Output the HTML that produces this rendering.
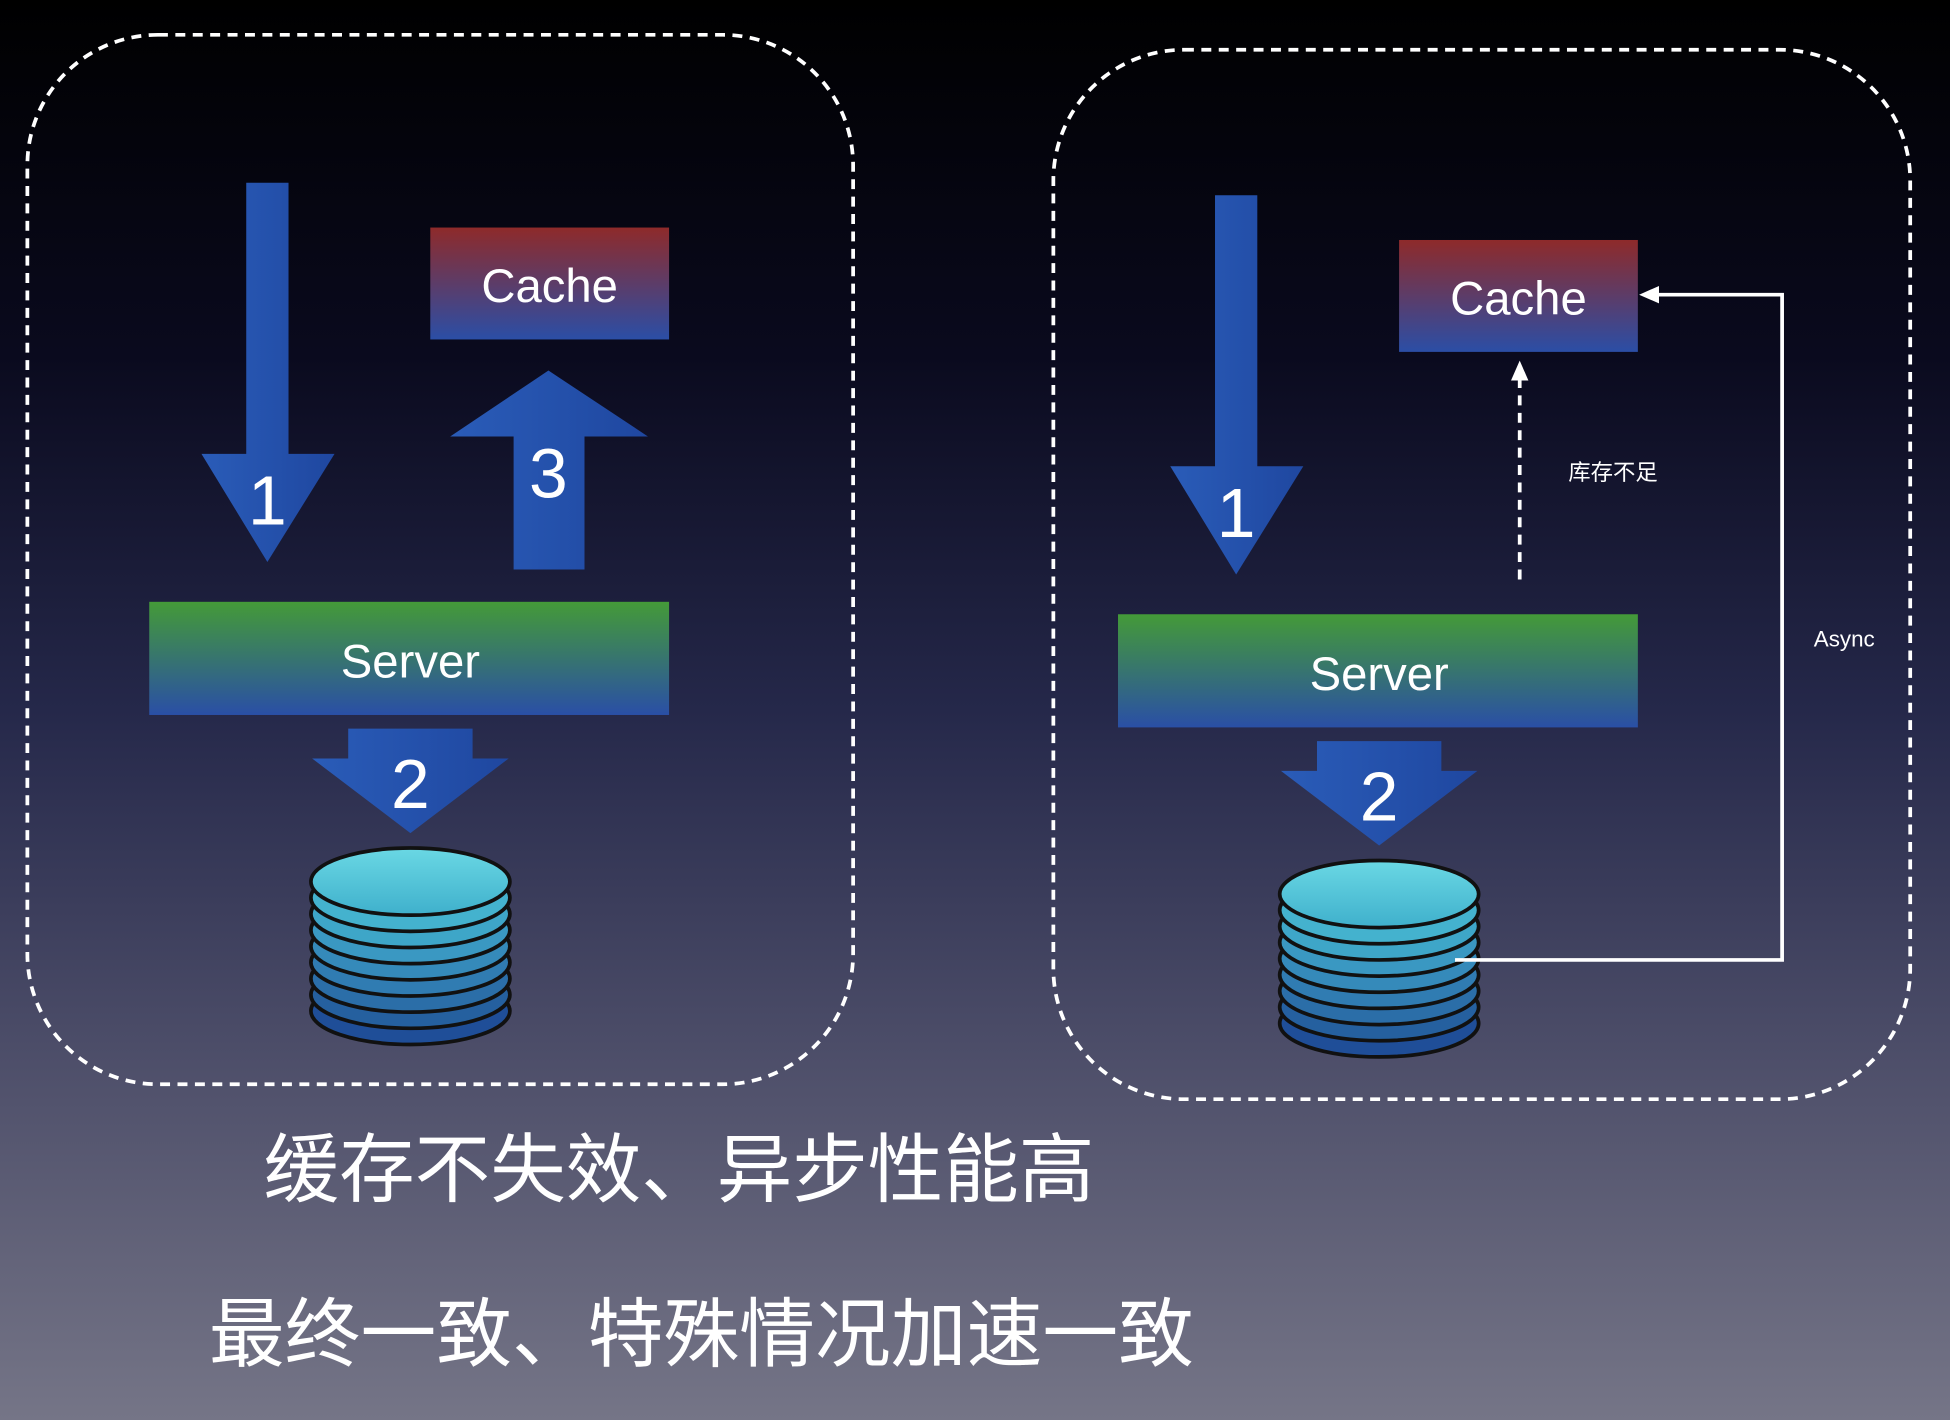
<!DOCTYPE html>
<html><head><meta charset="utf-8"><style>
html,body{margin:0;padding:0;width:1950px;height:1420px;overflow:hidden;background:#000}
svg{display:block}
text{font-family:"Liberation Sans","Noto Sans CJK SC",sans-serif;fill:#fff}
</style></head><body>
<svg width="1950" height="1420" viewBox="0 0 1568 1142" preserveAspectRatio="none">
<defs>
<linearGradient id="bg" x1="0" y1="0" x2="0" y2="1">
<stop offset="0" stop-color="#000"/><stop offset="0.25" stop-color="#0a0a1e"/>
<stop offset="0.5" stop-color="#25284a"/><stop offset="0.75" stop-color="#4e4f6a"/>
<stop offset="1" stop-color="#757587"/></linearGradient>
<linearGradient id="cache" x1="0" y1="0" x2="0" y2="1">
<stop offset="0" stop-color="#8e2a2a"/><stop offset="1" stop-color="#2b4ea6"/></linearGradient>
<linearGradient id="srv" x1="0" y1="0" x2="0" y2="1">
<stop offset="0" stop-color="#449a38"/><stop offset="1" stop-color="#2a4fa6"/></linearGradient>
<linearGradient id="arr" x1="0" y1="0" x2="1" y2="0">
<stop offset="0" stop-color="#2a5cb8"/><stop offset="1" stop-color="#1f47a0"/></linearGradient>
<linearGradient id="dtop" x1="0" y1="0" x2="0" y2="1">
<stop offset="0" stop-color="#6ad8e4"/><stop offset="1" stop-color="#3fb0cc"/></linearGradient>
<g id="db">
<ellipse cx="0" cy="104" rx="80" ry="27" fill="#1f4e98" stroke="#111" stroke-width="3"/>
<ellipse cx="0" cy="91" rx="80" ry="27" fill="#25609f" stroke="#111" stroke-width="3"/>
<ellipse cx="0" cy="78" rx="80" ry="27" fill="#2b6ea8" stroke="#111" stroke-width="3"/>
<ellipse cx="0" cy="65" rx="80" ry="27" fill="#307cb2" stroke="#111" stroke-width="3"/>
<ellipse cx="0" cy="52" rx="80" ry="27" fill="#358aba" stroke="#111" stroke-width="3"/>
<ellipse cx="0" cy="39" rx="80" ry="27" fill="#3a98c2" stroke="#111" stroke-width="3"/>
<ellipse cx="0" cy="26" rx="80" ry="27" fill="#3ea6c8" stroke="#111" stroke-width="3"/>
<ellipse cx="0" cy="13" rx="80" ry="27" fill="#44b2ce" stroke="#111" stroke-width="3"/>
<ellipse cx="0" cy="0" rx="80" ry="27" fill="url(#dtop)" stroke="#111" stroke-width="3"/>
</g>
<g id="down1"><path d="M198 147 H232 V365 H269 L215 452 L162 365 H198 Z" fill="url(#arr)"/>
<text x="215" y="422" font-size="56" text-anchor="middle">1</text></g>
<g id="down2"><path d="M280 586 H380 V610 H409 L330 670 L251 610 H280 Z" fill="url(#arr)"/>
<text x="330" y="650" font-size="56" text-anchor="middle">2</text></g>
<g id="cb"><rect x="346" y="183" width="192" height="90" fill="url(#cache)"/>
<text x="442" y="243" font-size="38" text-anchor="middle">Cache</text></g>
<g id="sv"><rect x="120" y="484" width="418" height="91" fill="url(#srv)"/>
<text x="330" y="545" font-size="38" text-anchor="middle">Server</text></g>
</defs>
<rect width="1568" height="1142" fill="url(#bg)"/>
<rect x="22" y="28" width="664" height="844" rx="105" fill="none" stroke="#fff" stroke-width="3" stroke-dasharray="8 6"/>
<rect x="847" y="40" width="689" height="844" rx="105" fill="none" stroke="#fff" stroke-width="3" stroke-dasharray="8 6"/>

<use href="#down1"/><use href="#cb"/>
<path d="M441 298 L521 351 H470 V458 H413 V351 H362 Z" fill="url(#arr)"/>
<text x="441" y="400" font-size="56" text-anchor="middle">3</text>
<use href="#sv"/><use href="#down2"/>
<use href="#db" x="330" y="709"/>

<g transform="translate(779,10)"><use href="#down1"/><use href="#cb"/><use href="#sv"/><use href="#down2"/><use href="#db" x="330" y="709"/></g>
<line x1="1222" y1="466" x2="1222" y2="305" stroke="#fff" stroke-width="3" stroke-dasharray="8 6"/>
<path d="M1222 290 L1229 306 H1215 Z" fill="#fff"/>
<text x="1297" y="386" font-size="18" text-anchor="middle">库存不足</text>
<polyline points="1170,772 1433,772 1433,237 1332,237" fill="none" stroke="#fff" stroke-width="3"/>
<path d="M1318 237 L1334 230 V244 Z" fill="#fff"/>
<text x="1483" y="520" font-size="18" text-anchor="middle">Async</text>

<text x="212" y="962" font-size="61" textLength="668" lengthAdjust="spacingAndGlyphs">缓存不失效、异步性能高</text>
<text x="168" y="1094" font-size="61" textLength="792" lengthAdjust="spacingAndGlyphs">最终一致、特殊情况加速一致</text>
</svg>
</body></html>
